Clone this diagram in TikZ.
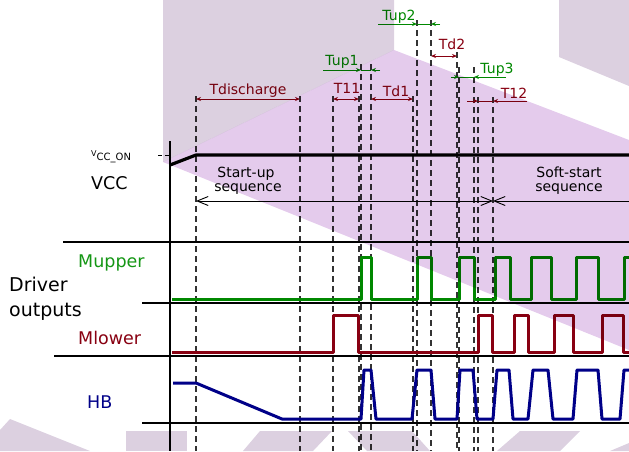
\documentclass[tikz,border=0pt]{standalone}
\usepackage{fontspec}
\setmainfont{DejaVu Sans}
\usetikzlibrary{arrows.meta}
\definecolor{wgreen}{RGB}{0,136,0}
\definecolor{lgreen}{RGB}{20,150,20}
\definecolor{wred}{RGB}{136,0,17}
\definecolor{wblue}{RGB}{0,0,136}
\definecolor{wmgray}{RGB}{220,208,224}
\definecolor{wmpink}{RGB}{228,203,236}
\tikzset{
  wave/.style={line width=3pt, line join=round},
  axisline/.style={line width=2pt, black},
  guide/.style={line width=1.1pt, dash pattern=on 6pt off 4pt, black!80},
  dimboth/.style={line width=0.9pt, arrows={Stealth[length=5pt,width=4pt]-Stealth[length=5pt,width=4pt]}},
  dimone/.style={line width=0.9pt, arrows={-Stealth[length=5pt,width=4pt]}},
  seqarrow/.style={line width=0.9pt, black},
  big/.style={anchor=base west, inner sep=0pt, font=\fontsize{17.5}{18}\selectfont},
  small/.style={anchor=base, inner sep=0pt, font=\fontsize{14}{15}\selectfont},
}
\begin{document}
\begin{tikzpicture}[x=1pt,y=-1pt]
\useasboundingbox (0,0) rectangle (629,451);

% ---- dashed guide lines
\foreach \gx/\gt in {196/96,300/96,333/96,359/96,361/64,371/64,413/96,417/20,431/20,457/52,459/67,474/67,478/97,493/97}
  \draw[guide] (\gx,\gt) -- (\gx,451);

% ---- axes
\draw[line width=2.5pt] (170,141) -- (170,451);
\draw[axisline] (63,242) -- (629,242);
\draw[axisline] (142,303) -- (629,303);
\draw[axisline] (54,356) -- (629,356);
\draw[axisline] (142,423) -- (629,423);

% ---- VCC
\draw[line width=0.9pt, dash pattern=on 4pt off 3pt] (158,155) -- (170,155);
\draw[line width=3.2pt, line join=round] (170,165) -- (196,155) -- (629,155);

% ---- waveforms
\draw[wave, wgreen] (172,299) -- (361,299) -- (361,257) -- (371,257) -- (371,299) -- (417,299) -- (417,257) -- (431,257) -- (431,299) -- (459,299) -- (459,257) -- (474,257) -- (474,299) -- (495,299) -- (495,257) -- (510,257) -- (510,299) -- (531,299) -- (531,257) -- (551,257) -- (551,299) -- (576,299) -- (576,257) -- (598,257) -- (598,299) -- (624,299) -- (624,257) -- (629,257);
\draw[wave, wred] (172,352) -- (333,352) -- (333,315) -- (358,315) -- (358,352) -- (478,352) -- (478,315) -- (492,315) -- (492,352) -- (514,352) -- (514,315) -- (528,315) -- (528,352) -- (554,352) -- (554,315) -- (573,315) -- (573,352) -- (602,352) -- (602,315) -- (623,315) -- (623,352) -- (629,352);
\draw[wave, wblue] (173,383) -- (196,383) -- (282,419) -- (361,419) -- (364,370) -- (371,370) -- (376,419) -- (412,419) -- (417,370) -- (431,370) -- (435,419) -- (457,419) -- (460,370) -- (473,370) -- (477,419) -- (493,419) -- (497,370) -- (509,370) -- (513,419) -- (528,419) -- (533,370) -- (548,370) -- (553,419) -- (573,419) -- (577,370) -- (598,370) -- (602,419) -- (620,419) -- (624,370) -- (629,370);

% ---- sequence arrows
\coordinate (su) at (196,201);
\coordinate (ss) at (493,201);
\coordinate (se) at (629,201);
\draw[seqarrow, {Straight Barb[length=11pt,width=9pt]}-{Straight Barb[length=11pt,width=9pt]}] (su) -- (ss);
\draw[seqarrow, -{Straight Barb[length=11pt,width=9pt]}] (se) -- (ss);

% ---- timing dimensions
\draw[dimboth, wred] (196,99) -- (300,99);
\draw[dimboth, wred] (333,99) -- (359,99);
\draw[dimboth, wred] (371,99) -- (413,99);
\draw[dimboth, wred] (431,56) -- (457,56);
\draw[dimone, wgreen] (323,70) -- (361,70);
\draw[line width=0.9pt, wgreen] (361,70) -- (371,70);
\draw[dimone, wgreen] (380,70) -- (371,70);
\draw[dimone, wgreen] (378,24) -- (417,24);
\draw[line width=0.9pt, wgreen] (417,24) -- (431,24);
\draw[dimone, wgreen] (440,24) -- (431,24);
\draw[dimone, wgreen] (451,77) -- (459,77);
\draw[line width=0.9pt, wgreen] (459,77) -- (474,77);
\draw[dimone, wgreen] (506,77) -- (474,77);
\draw[dimone, wred] (467,101) -- (478,101);
\draw[line width=0.9pt, wred] (478,101) -- (493,101);
\draw[dimone, wred] (527,101) -- (493,101);

% ---- labels
\node[small, wred] (tdis) at (248,94) {Tdischarge};
\node[small, wred] (tl1) at (347,93) {T11};
\node[small, wred] (td1) at (396,96) {Td1};
\node[small, wred] (td2) at (452,49) {Td2};
\node[small, wred] (tl2) at (514,98) {T12};
\node[small, wgreen] (tup1) at (342,65) {Tup1};
\node[small, wgreen] (tup2) at (399,20) {Tup2};
\node[small, wgreen] (tup3) at (497,73) {Tup3};
\node[small] (st1) at (246,177) {Start-up};
\node[small] (st2) at (248,191) {sequence};
\node[small] (so1) at (569,177) {Soft-start};
\node[small] (so2) at (569,191) {sequence};
\node[anchor=base west, inner sep=0pt] (vccon) at (91,160) {\raisebox{4pt}{\fontsize{8}{8}\selectfont V}\fontsize{10}{10}\selectfont CC\_ON};
\node[big] (vcc) at (91,189) {VCC};
\node[big, lgreen] (mup) at (78,267) {Mupper};
\node[big, font=\fontsize{19}{19}\selectfont] (drv) at (9,291) {Driver};
\node[big, font=\fontsize{19}{19}\selectfont] (outp) at (9,316) {outputs};
\node[big, wred] (mlo) at (78,344) {Mlower};
\node[big, wblue] (hb) at (87,408) {HB};

% ---- watermark overlay
\begin{scope}[blend mode=multiply]
\fill[wmgray] (163,0) -- (394,0) -- (394,50) -- (163,162) -- cycle;
\fill[wmpink] (163,162) -- (394,50) -- (629,140) -- (629,350) -- cycle;
\fill[wmgray] (559,0) -- (629,0) -- (629,86) -- (559,57) -- cycle;
\fill[wmgray] (0,430) -- (10,419) -- (90,451) -- (0,451) -- cycle;
\fill[wmgray] (126,431) rectangle (187,451);
\fill[wmgray] (243,451) -- (260,431) -- (332,431) -- (313,451) -- cycle;
\fill[wmgray] (348,431) -- (412,431) -- (430,451) -- (367,451) -- cycle;
\fill[wmgray] (497,451) -- (520,431) -- (580,431) -- (560,451) -- cycle;
\fill[wmgray] (610,451) -- (629,443) -- (629,451) -- cycle;
\end{scope}
\end{tikzpicture}
\end{document}
